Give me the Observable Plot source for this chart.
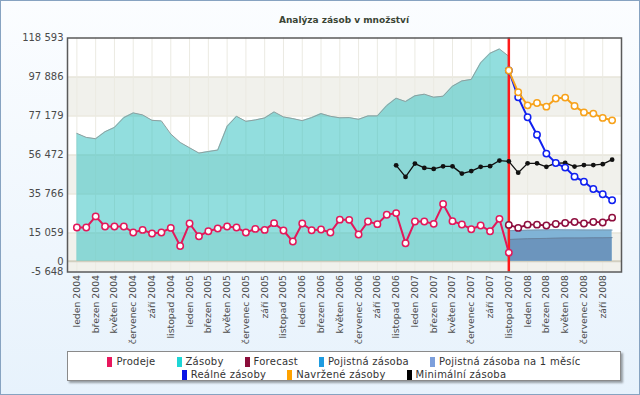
<!DOCTYPE html>
<html><head><meta charset="utf-8">
<script src="https://cdn.jsdelivr.net/npm/d3@7"></script>
<script src="https://cdn.jsdelivr.net/npm/@observablehq/plot@0.6"></script>
<style>
html,body{margin:0;padding:0;background:#fff;}
#wrap{position:relative;width:640px;height:395px;overflow:hidden;background:linear-gradient(#fbfdff,#e7f2fc);box-shadow:inset 0 0 0 1px #87a3c1;font-family:"DejaVu Sans",sans-serif;}
#title{position:absolute;left:67px;width:554px;top:14px;text-align:center;font-weight:bold;font-size:9px;line-height:12px;color:#3a4535;}
#chart{position:absolute;left:0;top:30px;}
#legend{position:absolute;left:67px;top:351px;width:554px;height:30px;background:#fff;border:1px solid #8a8a8a;box-sizing:border-box;box-shadow:2px 2px 2px rgba(0,0,0,0.35);display:flex;flex-wrap:wrap;justify-content:center;align-content:flex-start;padding-top:3px;column-gap:21px;font-size:10px;letter-spacing:0.25px;color:#333;line-height:13px;}
#legend .it{display:flex;align-items:center;white-space:nowrap;}
#legend .sw{display:inline-block;width:5px;height:10px;margin-right:4px;}
#legend .br{flex-basis:100%;height:0;}
</style></head>
<body><div id="wrap"><div id="title">Analýza zásob v množství</div><div id="chart"></div><div id="legend"></div></div>
<script>
const monthNames = ["leden","únor","březen","duben","květen","červen","červenec","srpen","září","říjen","listopad","prosinec"];
const years = [2004, 2005, 2006, 2007, 2008];
const monthCount = 58;
const yTicks = [-5648, 15059, 35766, 56472, 77179, 97886, 118593];
const currentMonth = "listopad 2007";

const prodejeStart = "leden 2004";
const prodeje = [17990, 17990, 23860, 18520, 18520, 18520, 15320, 16700, 14780, 15320, 17770, 8170, 20120, 13340, 16010, 17450, 18520, 17990, 15320, 17240, 16700, 20280, 16390, 10510, 20120, 16550, 16920, 15320, 22150, 22040, 14250, 21190, 19750, 24710, 25620, 9610, 21190, 21190, 19910, 30420, 21350, 19590, 17080, 19050, 16010, 22580, 4640];
const zasobyStart = "leden 2004";
const zasoby = [67940, 65810, 65110, 68850, 71140, 76320, 78830, 77760, 74880, 74560, 67620, 63140, 60310, 57480, 58330, 59080, 71680, 77010, 74340, 75090, 76160, 79360, 76690, 75790, 74720, 76320, 78450, 77010, 76210, 76320, 75410, 77230, 77230, 82720, 86620, 84860, 87900, 88750, 87150, 87690, 93020, 95800, 96600, 105410, 110480, 112770, 108880];
const forecastStart = "listopad 2007";
const forecast = [19370, 17770, 19480, 19480, 19050, 19850, 20390, 20920, 20120, 20920, 20650, 23220];
const pojistna = [16300, 16400, 16500, 16600, 16700, 16800, 16700, 16700, 16600, 16600, 16600, 16600];
const pojistna1 = [11600, 11800, 12000, 12100, 12200, 12300, 12400, 12400, 12400, 12500, 12500, 12600];
const realne = [101300, 87100, 76480, 67250, 57210, 52200, 49790, 44990, 42270, 38430, 35600, 32450];
const navrzene = [101300, 89770, 82830, 84060, 82140, 86460, 86940, 82460, 79090, 78450, 76160, 74880];
const minimalniStart = "listopad 2006";
const minimalni = [50970, 44830, 51930, 49630, 49100, 50440, 50440, 46590, 47930, 50170, 50540, 53530, 53100, 47070, 52040, 52040, 50170, 52200, 52300, 50330, 51130, 51130, 51610, 54010];

const legendNames = ["Prodeje","Zásoby","Forecast","Pojistná zásoba","Pojistná zásoba na 1 měsíc","Reálné zásoby","Navržené zásoby","Minimální zásoba"];
const legendColors = ["#e8175d","#1ed6d6","#8b0d3a","#1e9be0","#7c9fdc","#0a14e6","#ffa200","#000000"];

const months = [];
for (const y of years) for (const m of monthNames) if (months.length < monthCount) months.push(m + " " + y);
const idx = name => months.indexOf(name);
const ser = (start, arr) => arr.map((v, k) => ({i: idx(start) + k, v}));

const dProdeje = ser(prodejeStart, prodeje);
const dZasoby = ser(zasobyStart, zasoby);
const dForecast = ser(forecastStart, forecast);
const dPoj = ser(forecastStart, pojistna);
const dPoj1 = ser(forecastStart, pojistna1);
const dReal = ser(forecastStart, realne);
const dNavr = ser(forecastStart, navrzene);
const dMin = ser(minimalniStart, minimalni);
const bands = [[yTicks[0], yTicks[1]], [yTicks[2], yTicks[3]], [yTicks[4], yTicks[5]]].map(([lo, hi]) => ({lo, hi}));
const evenIdx = months.map((m, i) => i).filter(i => i % 2 === 0);

const fmt = d3.formatLocale({decimal: ",", thousands: " ", grouping: [3], currency: ["", ""], minus: "-"}).format(",d");

const lineDots = (data, color, w) => [
  Plot.lineY(data, {x: "i", y: "v", stroke: color, strokeWidth: w}),
  Plot.dot(data, {x: "i", y: "v", r: 3.2, fill: "#fff", stroke: color, strokeWidth: 1.5})
];

const chart = Plot.plot({
  width: 640, height: 316,
  marginLeft: 67, marginRight: 19, marginTop: 7.5, marginBottom: 74.5,
  x: {type: "linear", domain: [-1, monthCount]},
  y: {domain: [yTicks[0], yTicks[yTicks.length - 1]]},
  style: {background: "transparent", fontFamily: "DejaVu Sans", overflow: "visible"},
  marks: [
    Plot.frame({fill: "#fff", stroke: "none"}),
    Plot.rect(bands, {y1: "lo", y2: "hi", fill: "#f1f1ec"}),
    Plot.ruleY(yTicks.slice(1, -1), {stroke: "#e2dfd0"}),
    Plot.ruleX(evenIdx, {stroke: "#ebeae2"}),
    Plot.ruleY([0], {stroke: "#d2cfc0", strokeWidth: 2}),
    Plot.areaY(dZasoby, {x: "i", y: "v", fill: "#26bdbd", fillOpacity: 0.5}),
    Plot.lineY(dZasoby, {x: "i", y: "v", stroke: "#8f9f9f", strokeWidth: 1}),
    Plot.areaY(dPoj, {x: "i", y: "v", fill: "#80b3d6"}),
    Plot.lineY(dPoj, {x: "i", y: "v", stroke: "#7a9cb5", strokeWidth: 1}),
    Plot.areaY(dPoj1, {x: "i", y: "v", fill: "#6c95bd"}),
    Plot.lineY(dPoj1, {x: "i", y: "v", stroke: "#6884a0", strokeWidth: 1}),
    Plot.ruleX([idx(currentMonth)], {stroke: "#ff1a1a", strokeWidth: 2.5}),
    Plot.lineY(dMin, {x: "i", y: "v", stroke: "#111", strokeWidth: 1.3}),
    Plot.dot(dMin, {x: "i", y: "v", r: 2.4, fill: "#111"}),
    ...lineDots(dProdeje, "#e3185a", 2),
    ...lineDots(dForecast, "#8e0e3e", 1.8),
    ...lineDots(dReal, "#1020f0", 2),
    ...lineDots(dNavr, "#f7a21b", 2),
    Plot.frame({stroke: "#5a5a5a", strokeWidth: 1.5}),
    Plot.axisY({ticks: [...yTicks, 0], tickFormat: fmt, tickSize: 0, tickPadding: 4, fontSize: 10, color: "#4a4a4a", label: null}),
    Plot.axisX({ticks: evenIdx, tickFormat: i => months[i], tickRotate: -90, tickSize: 0, tickPadding: 3, fontSize: 9.3, color: "#4a4a4a", label: null})
  ]
});
document.getElementById("chart").appendChild(chart);

const lg = document.getElementById("legend");
legendNames.forEach((n, k) => {
  if (k === 5) { const b = document.createElement("div"); b.className = "br"; lg.appendChild(b); }
  const it = document.createElement("div"); it.className = "it";
  it.innerHTML = `<span class="sw" style="background:${legendColors[k]}"></span><span>${n}</span>`;
  lg.appendChild(it);
});
</script></body></html>
